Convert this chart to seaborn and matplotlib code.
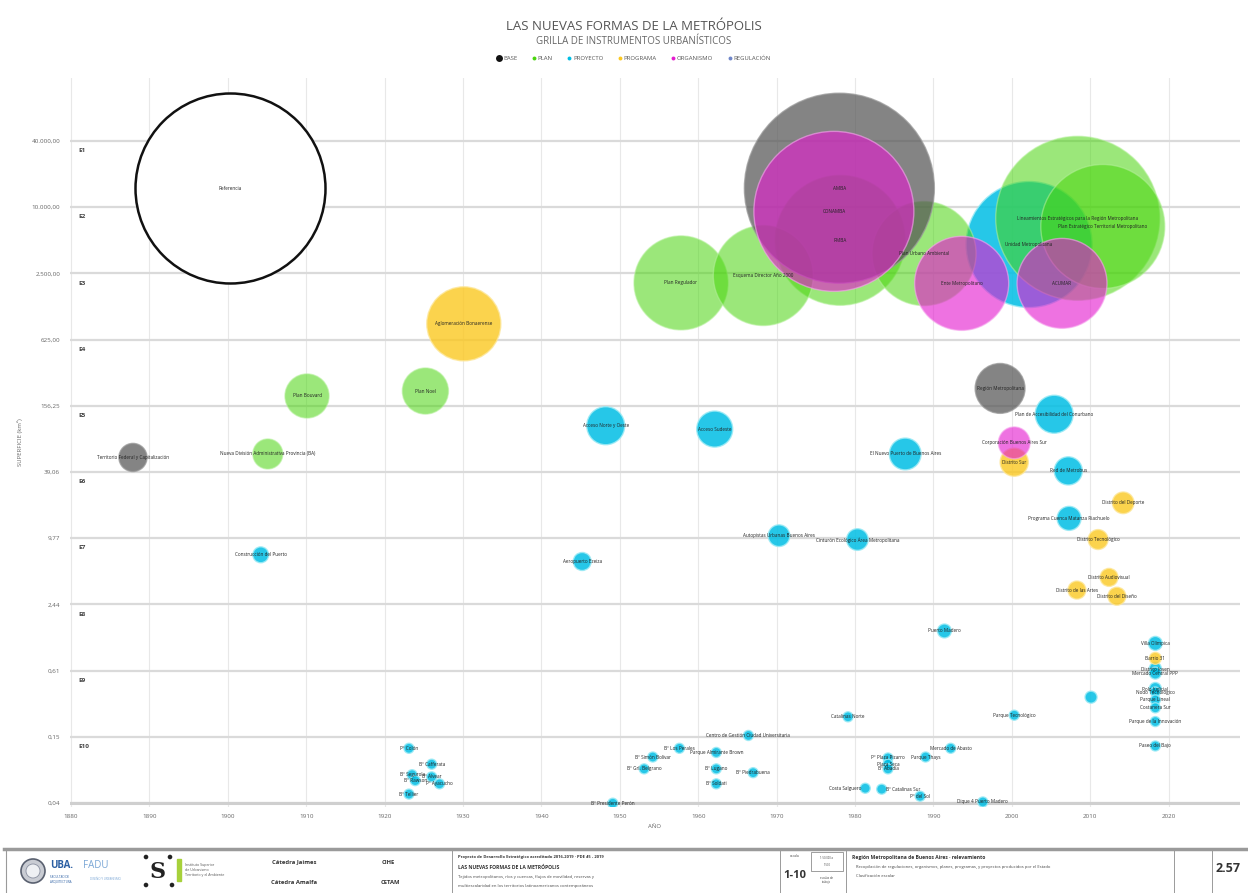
import numpy as np
import pandas as pd
import matplotlib
matplotlib.use("Agg")
import matplotlib.pyplot as plt
from matplotlib.lines import Line2D
from matplotlib.patches import Rectangle, Circle
from matplotlib.ticker import NullLocator, FixedLocator, FuncFormatter
import seaborn as sns

# ---- datos ----
anios = [1887.9, 1978.0, 1998.5, 1977.3, 1978.1, 1957.8, 1968.3, 1988.8, 1993.6, 2006.4,
         2002.2, 2008.4, 2011.6, 1930.1, 1910.1, 1925.2, 1905.1, 1948.2, 1962.1, 1904.2,
         1945.2, 1986.4, 2005.4, 2000.3, 2000.3, 2007.2, 2014.2, 2007.3, 2011.0, 1970.3,
         1980.3, 2012.4, 2008.3, 2013.4, 1991.4, 2018.3, 2018.3, 2018.3, 2018.3, 2018.3,
         2018.3, 2018.3, 2018.3, 2018.3, 2018.3, 2010.1, 2000.3, 1979.1, 1966.4, 1957.6,
         1954.2, 1953.1, 1962.3, 1962.3, 1962.3, 1967.0, 1949.1, 1923.1, 1926.0, 1923.5,
         1926.0, 1927.0, 1923.9, 1923.1, 1992.2, 1989.0, 1984.2, 1984.2, 1984.2, 1981.3,
         1983.4, 1988.3, 1996.3]
superficies = [53, 14900, 225, 9170, 5000, 2050, 2390, 3790, 2030, 2030,
               4580, 7930, 6680, 870, 192, 213, 57, 103, 96, 6.9,
               6.0, 57, 131, 72, 48, 40, 20.5, 14.8, 9.5, 10.3,
               9.5, 4.3, 3.3, 2.9, 1.4, 1.08, 0.79, 0.64, 0.58, 0.42,
               0.39, 0.33, 0.28, 0.21, 0.126, 0.35, 0.24, 0.232, 0.157, 0.12,
               0.10, 0.078, 0.11, 0.078, 0.057, 0.072, 0.038, 0.12, 0.086, 0.069,
               0.066, 0.057, 0.061, 0.046, 0.12, 0.10, 0.098, 0.086, 0.078, 0.052,
               0.051, 0.044, 0.039]
magnitudes = [2.2, 100, 6.9, 70.9, 46.8, 24.5, 27.7, 30, 24.5, 22.4,
              44, 74.5, 42.6, 15.2, 5.4, 5.9, 2.5, 4.0, 3.6, 0.7,
              0.9, 2.8, 4.0, 2.8, 2.2, 2.2, 1.3, 1.6, 1.1, 1.3,
              1.3, 0.9, 0.9, 0.9, 0.54, 0.54, 0.4, 0.4, 0.4, 0.4,
              0.28, 0.28, 0.28, 0.28, 0.28, 0.4, 0.28, 0.28, 0.28, 0.28,
              0.28, 0.28, 0.28, 0.28, 0.28, 0.28, 0.28, 0.28, 0.28, 0.28,
              0.28, 0.28, 0.28, 0.28, 0.28, 0.28, 0.28, 0.28, 0.28, 0.28,
              0.28, 0.28, 0.28]
categorias = ["BASE", "BASE", "BASE", "ORGANISMO", "PLAN", "PLAN", "PLAN", "PLAN", "ORGANISMO", "ORGANISMO",
              "PROYECTO", "PLAN", "PLAN", "PROGRAMA", "PLAN", "PLAN", "PLAN", "PROYECTO", "PROYECTO", "PROYECTO",
              "PROYECTO", "PROYECTO", "PROYECTO", "ORGANISMO", "PROGRAMA", "PROYECTO", "PROGRAMA", "PROYECTO", "PROGRAMA", "PROYECTO",
              "PROYECTO", "PROGRAMA", "PROGRAMA", "PROGRAMA", "PROYECTO", "PROYECTO", "PROGRAMA", "PROYECTO", "PROYECTO", "PROYECTO",
              "PROYECTO", "PROYECTO", "PROYECTO", "PROYECTO", "PROYECTO", "PROYECTO", "PROYECTO", "PROYECTO", "PROYECTO", "PROYECTO",
              "PROYECTO", "PROYECTO", "PROYECTO", "PROYECTO", "PROYECTO", "PROYECTO", "PROYECTO", "PROYECTO", "PROYECTO", "PROYECTO",
              "PROYECTO", "PROYECTO", "PROYECTO", "PROYECTO", "PROYECTO", "PROYECTO", "PROYECTO", "PROYECTO", "PROYECTO", "PROYECTO",
              "PROYECTO", "PROYECTO", "PROYECTO"]
etiquetas = ["Territorio Federal y Capitalización", "AMBA", "Región Metropolitana", "CONAMBA", "RMBA",
             "Plan Regulador", "Esquema Director Año 2000", "Plan Urbano Ambiental", "Ente Metropolitano", "ACUMAR",
             "Unidad Metropolitana", "Lineamientos Estratégicos para la Región Metropolitana",
             "Plan Estratégico Territorial Metropolitano", "Aglomeración Bonaerense", "Plan Bouvard",
             "Plan Noel", "Nueva División Administrativa Provincia (BA)", "Acceso Norte y Oeste", "Acceso Sudeste",
             "Construcción del Puerto", "Aeropuerto Ezeiza", "El Nuevo Puerto de Buenos Aires",
             "Plan de Accesibilidad del Conurbano", "Corporación Buenos Aires Sur", "Distrito Sur",
             "Red de Metrobus", "Distrito del Deporte", "Programa Cuenca Matanza Riachuelo",
             "Distrito Tecnológico", "Autopistas Urbanas Buenos Aires", "Cinturón Ecológico Área Metropolitana",
             "Distrito Audiovisual", "Distrito de las Artes", "Distrito del Diseño", "Puerto Madero",
             "Villa Olímpica", "Barrio 31", "Distrito Joven", "Mercado Central PPP", "Polo Judicial",
             "Nodo Tecnológico", "Parque Lineal", "Costanera Sur", "Parque de la Innovación", "Paseo del Bajo",
             "", "Parque Tecnológico", "Catalinas Norte", "Centro de Gestión Ciudad Universitaria",
             "Bº Los Perales", "Bº Simón Bolívar", "Bº Grl. Belgrano", "Parque Almirante Brown",
             "Bº Lugano", "Bº Soldati", "Bº Piedrabuena", "Bº Presidente Perón", "Pº Colón",
             "Bº Cafferata", "Bº Segurola", "Bº Alvear", "Pº Ayacucho", "Bº Rawson", "Bº Tellier",
             "Mercado de Abasto", "Parque Thays", "Pº Plaza Pizarro", "Plaza Seca", "Bº Abadía",
             "Costa Salguero", "Bº Catalinas Sur", "Pº del Sol", "Dique 4 Puerto Madero"]

# burbuja de referencia (contorno negro)
ref_anio = [1900.3]
ref_superficie = [14900]
ref_magnitud = [100]
ref_etiqueta = ["Referencia"]

escala_ticks = [40000 / 4 ** k for k in range(11)]
escala_nombres = ["E1", "E2", "E3", "E4", "E5", "E6", "E7", "E8", "E9", "E10"]
decadas = list(range(1880, 2030, 10))
leyenda = ["BASE", "PLAN", "PROYECTO", "PROGRAMA", "ORGANISMO", "REGULACIÓN"]

colores = {"BASE": "#555555", "PLAN": "#49d50d", "PROYECTO": "#00bee4",
           "PROGRAMA": "#fbc820", "ORGANISMO": "#e41ccf", "REGULACIÓN": "#6f86c9"}
bordes = {"BASE": "#9a9a9a", "PLAN": "#b4f09a", "PROYECTO": "#9beaf5",
          "PROGRAMA": "#fde79a", "ORGANISMO": "#f7a5ee"}
alfas = {"BASE": 0.72, "PLAN": 0.55, "PROYECTO": 0.85, "PROGRAMA": 0.8, "ORGANISMO": 0.62}
orden = ["PROYECTO", "PROGRAMA", "PLAN", "BASE", "ORGANISMO"]
# etiquetas que van a la izquierda de su burbuja para no pisarse
a_la_izquierda = {"Costa Salguero"}
a_la_derecha = {"Bº Catalinas Sur"}

df = pd.DataFrame({"anio": anios, "superficie": superficies, "magnitud": magnitudes,
                   "categoria": categorias, "etiqueta": etiquetas})
ref = pd.DataFrame({"anio": ref_anio, "superficie": ref_superficie, "magnitud": ref_magnitud})

plt.rcParams["font.family"] = ["Open Sans", "DejaVu Sans"]

W, H = 1248, 893
fig = plt.figure(figsize=(W / 100, H / 100), dpi=100)
ax = fig.add_axes([70 / W, (H - 807) / H, 1170 / W, 729 / H])

# area de marcador para magnitud 100 (radio 95 px)
s_max = (2 * 95 * 0.72) ** 2

sns.scatterplot(data=ref, x="anio", y="superficie", size="magnitud", sizes=(0, s_max),
                size_norm=(0, 100), color="white", edgecolor="#111111", linewidth=1.8,
                legend=False, ax=ax, zorder=2)
for cat in orden:
    sub = df[df["categoria"] == cat]
    sns.scatterplot(data=sub, x="anio", y="superficie", size="magnitud", sizes=(0, s_max),
                    size_norm=(0, 100), color=colores[cat], edgecolor=bordes[cat], linewidth=1.0,
                    alpha=alfas[cat], legend=False, ax=ax, zorder=3)

for a, s, t in zip(df["anio"], df["superficie"], df["etiqueta"]):
    if t in a_la_izquierda:
        ax.annotate(t, xy=(a, s), xytext=(-3, 0), textcoords="offset points", fontsize=3.3,
                    color="#222222", ha="right", va="center", zorder=5)
    elif t in a_la_derecha:
        ax.annotate(t, xy=(a, s), xytext=(3, 0), textcoords="offset points", fontsize=3.3,
                    color="#222222", ha="left", va="center", zorder=5)
    else:
        ax.text(a, s, t, fontsize=3.3, color="#222222", ha="center", va="center", zorder=5)
ax.text(ref_anio[0], ref_superficie[0], ref_etiqueta[0], fontsize=3.3, color="#222222",
        ha="center", va="center", zorder=5)

ax.set_yscale("log", base=4)
ax.set_ylim(0.0351, 149700)
ax.set_xlim(1879.87, 2029.1)
ax.yaxis.set_major_locator(FixedLocator(escala_ticks))
ax.yaxis.set_minor_locator(NullLocator())


def fmt_es(v, pos=None):
    s = f"{v:,.2f}"
    return s.replace(",", "X").replace(".", ",").replace("X", ".")


ax.yaxis.set_major_formatter(FuncFormatter(fmt_es))
ax.set_xticks(decadas)
ax.tick_params(axis="both", length=0, labelsize=4.5, labelcolor="#666666")
ax.tick_params(axis="y", pad=7)
ax.tick_params(axis="x", pad=5)

ax.grid(axis="y", color="#dadada", linewidth=1.6, zorder=0)
ax.grid(axis="x", color="#e8e8e8", linewidth=0.8, zorder=0)
ax.set_axisbelow(True)
for sp in ax.spines.values():
    sp.set_visible(False)
ax.axhline(escala_ticks[-1], color="#cfcfcf", linewidth=2.2, zorder=1)

for v, n in zip(escala_ticks, escala_nombres):
    ax.annotate(n, xy=(0, v), xycoords=("axes fraction", "data"), xytext=(6, -7),
                textcoords="offset points", fontsize=4.6, fontweight="bold",
                color="#444444", va="center", ha="left")

ax.set_xlabel("AÑO", fontsize=4.3, color="#666666", labelpad=4)
ax.set_ylabel("SUPERFICIE (km²)", fontsize=4.3, color="#666666", labelpad=6)

# ---- titulo y leyenda ----
fig.text(634 / W, 1 - 26 / H, "LAS NUEVAS FORMAS DE LA METRÓPOLIS", fontsize=9.5,
         color="#555555", ha="center", va="center")
fig.text(634 / W, 1 - 42 / H, "GRILLA DE INSTRUMENTOS URBANÍSTICOS", fontsize=7,
         color="#666666", ha="center", va="center")
handles = []
for i, n in enumerate(leyenda):
    handles.append(Line2D([], [], marker="o", linestyle="none",
                          markersize=5 if i == 0 else 2.8,
                          markerfacecolor="#111111" if i == 0 else colores[n],
                          markeredgewidth=0))
fig.legend(handles, leyenda, loc="center", bbox_to_anchor=(634 / W, 1 - 58 / H), ncol=6,
           frameon=False, fontsize=4.3, handletextpad=0.2, columnspacing=2.4,
           handlelength=0.8, labelcolor="#555555")

# ---- rotulo inferior ----
fa = fig.add_axes([0, 0, 1, 50 / H])
fa.set_xlim(0, W)
fa.set_ylim(0, 50)
fa.axis("off")
fa.plot([4, W], [44, 44], color="#9a9a9a", linewidth=2.5)
fa.add_patch(Rectangle((6, -5), W, 49, fill=False, edgecolor="#9a9a9a", linewidth=0.8))
for xv in [452, 780, 846, 1174, 1212]:
    fa.plot([xv, xv], [0, 44], color="#9a9a9a", linewidth=0.7)

fa.add_patch(Circle((33, 22), 12, facecolor="#c9ccd3", edgecolor="#5a6170", linewidth=1.2))
fa.add_patch(Circle((33, 22), 7, facecolor="#eef0f3", edgecolor="#8a90a0", linewidth=0.6))
fa.text(50, 27, "UBA.", fontsize=7, fontweight="bold", color="#2b5fa3", va="center")
fa.text(83, 27, "FADU", fontsize=7, color="#7ba7d6", va="center")
fa.text(50, 14, "FACULTAD DE\nARQUITECTURA", fontsize=2.2, color="#2b5fa3", va="center", linespacing=1.1)
fa.text(90, 14, "DISEÑO Y URBANISMO", fontsize=2.2, color="#7ba7d6", va="center")
fa.text(158, 21, "S", fontsize=16, fontweight="bold", color="#222222", ha="center", va="center",
        family=["DejaVu Serif"])
for px, py in [(146, 36), (170, 36), (146, 8), (172, 8)]:
    fa.add_patch(Circle((px, py), 1.6, color="#222222"))
fa.add_patch(Rectangle((177, 12), 4, 22, color="#a7d13b"))
fa.text(185, 23, "Instituto Superior\nde Urbanismo\nTerritorio y el Ambiente", fontsize=2.6,
        color="#555555", va="center", linespacing=1.3)

fa.text(294, 31, "Cátedra Jaimes", fontsize=4.2, fontweight="bold", color="#333333", ha="center", va="center")
fa.text(294, 10, "Cátedra Amalfa", fontsize=4.2, fontweight="bold", color="#333333", ha="center", va="center")
fa.text(388, 31, "CIHE", fontsize=4.2, fontweight="bold", color="#333333", ha="center", va="center")
fa.text(390, 10, "CETAM", fontsize=4.2, fontweight="bold", color="#333333", ha="center", va="center")

fa.text(458, 36, "Proyecto de Desarrollo Estratégico acreditado 2016-2019 · PDE 45 - 2019",
        fontsize=3.0, fontweight="bold", color="#333333", va="center")
fa.text(458, 26, "LAS NUEVAS FORMAS DE LA METRÓPOLIS", fontsize=3.6, fontweight="bold",
        color="#333333", va="center")
fa.text(458, 16, "Tejidos metropolitanos, ríos y cuencas, flujos de movilidad, reservas y",
        fontsize=3.0, color="#444444", va="center")
fa.text(458, 7, "multiescalaridad en los territorios latinoamericanos contemporáneos",
        fontsize=3.0, color="#444444", va="center")

fa.text(795, 37, "escala", fontsize=2.4, color="#444444", ha="center", va="center")
fa.text(795, 17, "1-10", fontsize=8, fontweight="bold", color="#333333", ha="center", va="center")
fa.add_patch(Rectangle((811, 22), 32, 19, fill=False, edgecolor="#777777", linewidth=0.5))
fa.text(827, 35, "1:50.000 a", fontsize=2.0, color="#444444", ha="center", va="center")
fa.text(827, 28, "1:500", fontsize=2.0, color="#444444", ha="center", va="center")
fa.text(827, 13, "escalas de\ntrabajo", fontsize=2.0, color="#444444", ha="center", va="center")

fa.text(852, 36, "Región Metropolitana de Buenos Aires · relevamiento", fontsize=3.6,
        fontweight="bold", color="#333333", va="center")
fa.text(856, 26, "Recopilación de regulaciones, organismos, planes, programas, y proyectos producidos por el Estado",
        fontsize=3.0, color="#444444", va="center")
fa.text(856, 17, "Clasificación escalar", fontsize=3.0, color="#444444", va="center")
fa.text(1216, 24, "2.57", fontsize=9, fontweight="bold", color="#333333", va="center")

fig.savefig("out.png", dpi=100)
